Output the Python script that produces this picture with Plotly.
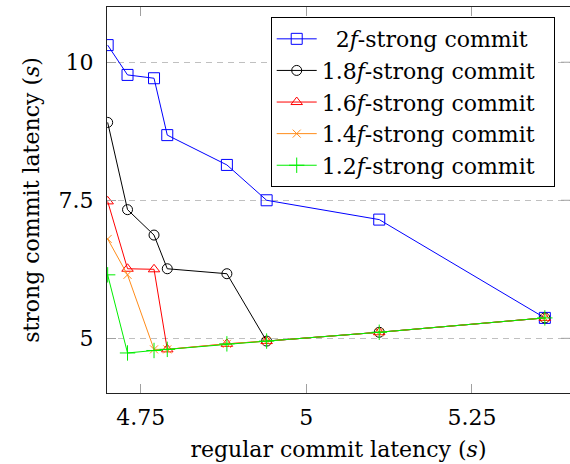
import plotly.graph_objects as go

# regular commit latency (s)
x_vals = [4.70, 4.73, 4.77, 4.79, 4.88, 4.94, 5.11, 5.36]

# strong commit latency (s) for each quorum size
y_2f = [10.31, 9.77, 9.71, 8.68, 8.14, 7.50, 7.15, 5.37]
y_18f = [8.91, 7.33, 6.87, 6.26, 6.17, 4.95, 5.11, 5.37]
y_16f = [7.48, 6.26, 6.25, 4.80, 4.90, 4.95, 5.11, 5.37]
y_14f = [6.80, 6.15, 4.80, 4.80, 4.90, 4.95, 5.11, 5.37]
y_12f = [6.15, 4.735, 4.78, 4.80, 4.90, 4.95, 5.11, 5.37]

names = ["&nbsp;&nbsp;2<i>f</i>-strong commit&nbsp;&nbsp;",
         "1.8<i>f</i>-strong commit&nbsp;&nbsp;",
         "1.6<i>f</i>-strong commit&nbsp;&nbsp;",
         "1.4<i>f</i>-strong commit&nbsp;&nbsp;",
         "1.2<i>f</i>-strong commit&nbsp;&nbsp;"]

x_ticks = [4.75, 5.0, 5.25]
x_tick_text = ["4.75", "5", "5.25"]
y_ticks = [5.0, 7.5, 10.0]
y_tick_text = ["5", "7.5", "10"]

FONT = "DejaVu Serif"
FS = 22

styles = [
    dict(color="#0000ff", symbol="square-open", size=11),
    dict(color="#000000", symbol="circle-open", size=10),
    dict(color="#ff0000", symbol="triangle-up-open", size=10),
    dict(color="#ff8c1a", symbol="x-thin-open", size=8),
    dict(color="#00ee00", symbol="cross-thin-open", size=11),
]

fig = go.Figure()
for ys, nm, st in zip([y_2f, y_18f, y_16f, y_14f, y_12f], names, styles):
    fig.add_trace(go.Scatter(
        x=x_vals, y=ys, name=nm, mode="lines+markers",
        line=dict(color=st["color"], width=1),
        marker=dict(symbol=st["symbol"], size=st["size"], color=st["color"],
                    line=dict(color=st["color"], width=1)),
    ))

plot_w = 570 - 107
shapes = []
for yv in y_ticks:
    shapes.append(dict(type="line", xref="paper", yref="y",
                       x0=1, x1=1 - 9 / plot_w, y0=yv, y1=yv,
                       line=dict(color="#a0a0a0", width=1)))

fig.update_layout(
    width=570, height=464,
    margin=dict(l=107, r=0, t=7, b=71),
    paper_bgcolor="white", plot_bgcolor="white",
    font=dict(family=FONT, size=FS, color="black"),
    showlegend=True,
    shapes=shapes,
    legend=dict(
        x=0.3536, y=0.974, xanchor="left", yanchor="top",
        bordercolor="black", borderwidth=1, bgcolor="white",
        font=dict(family=FONT, size=FS),
        tracegroupgap=0, itemwidth=40,
    ),
    xaxis=dict(
        range=[4.699, 5.398], tickvals=x_ticks, ticktext=x_tick_text,
        ticks="inside", ticklen=9, tickcolor="#a0a0a0", tickwidth=1,
        showline=True, linecolor="#222222", linewidth=1, mirror="ticks",
        showgrid=False, zeroline=False,
        title=dict(text="regular commit latency (<i>s</i>)", standoff=12,
                   font=dict(family=FONT, size=FS)),
        tickfont=dict(family=FONT, size=FS),
        ticklabelstandoff=5,
    ),
    yaxis=dict(
        range=[4.01, 11.0], tickvals=y_ticks, ticktext=y_tick_text,
        ticks="inside", ticklen=9, tickcolor="#a0a0a0", tickwidth=1,
        showline=True, linecolor="#222222", linewidth=1, mirror=False,
        showgrid=True, gridcolor="#c0c0c0", griddash="6px,5px", gridwidth=1,
        zeroline=False,
        title=dict(text="strong commit latency (<i>s</i>)", standoff=12,
                   font=dict(family=FONT, size=FS)),
        tickfont=dict(family=FONT, size=FS),
        ticklabelstandoff=8,
    ),
)

fig.write_html("out.html", config={"displayModeBar": False},
               post_script="document.body.style.margin='0';")
